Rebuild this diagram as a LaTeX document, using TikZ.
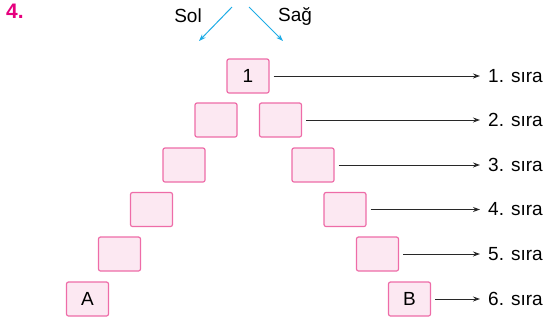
\documentclass[tikz,border=0pt]{standalone}
\usepackage{fontspec}
\setmainfont{Liberation Sans}
\usetikzlibrary{arrows.meta}
\definecolor{boxline}{RGB}{238,108,168}
\definecolor{boxfill}{RGB}{252,232,242}
\definecolor{numcol}{RGB}{230,0,126}
\definecolor{dircol}{RGB}{30,172,230}
\definecolor{linecol}{RGB}{40,40,40}
\tikzset{
  txt/.style={font=\fontsize{19}{22}\selectfont},
  cell/.style={draw=boxline, fill=boxfill, line width=1.2pt, rounded corners=2pt,
    minimum width=42pt, minimum height=34pt, inner sep=0pt, txt},
  rowlabel/.style={anchor=west, inner sep=0pt, inner xsep=8pt, txt},
  rowarrow/.style={draw=linecol, line width=1pt, -{Stealth[length=7pt,width=5pt]}},
  dirarrow/.style={draw=dircol, line width=1pt, -{Stealth[length=7pt,width=5pt]}},
  dirlabel/.style={inner sep=0pt, txt}
}
\begin{document}
\begin{tikzpicture}[x=1pt,y=-1pt]
  \useasboundingbox (0,0) rectangle (547,322);

  % problem number
  \node[anchor=north west, inner sep=0pt, text=numcol, font=\fontsize{21}{24}\selectfont\bfseries] (num) at (6,4) {4.};

  % direction hints
  \node[dirlabel] (sol) at (188,16) {Sol};
  \node[dirlabel] (sag) at (295,16) {Sağ};
  \coordinate (solA) at (232,7);
  \coordinate (solB) at (199,41);
  \coordinate (sagA) at (249,7);
  \coordinate (sagB) at (283,41);
  \draw[dirarrow] (solA) -- (solB);
  \draw[dirarrow] (sagA) -- (sagB);

  % cells, row by row
  \node[cell] (c1)  at (248,76) {1};
  \node[cell] (l2)  at (216,120) {};
  \node[cell] (r2)  at (280.5,120) {};
  \node[cell] (l3)  at (184,165) {};
  \node[cell] (r3)  at (313,165) {};
  \node[cell] (l4)  at (151.5,209.5) {};
  \node[cell] (r4)  at (345,209.5) {};
  \node[cell] (l5)  at (119.5,254) {};
  \node[cell] (r5)  at (377.5,254) {};
  \node[cell] (l6)  at (87.5,299) {A};
  \node[cell] (r6)  at (409.5,299) {B};

  % row labels
  \node[rowlabel] (s1) at (480,76) {1. sıra};
  \node[rowlabel] (s2) at (480,120) {2. sıra};
  \node[rowlabel] (s3) at (480,165) {3. sıra};
  \node[rowlabel] (s4) at (480,209.5) {4. sıra};
  \node[rowlabel] (s5) at (480,254) {5. sıra};
  \node[rowlabel] (s6) at (480,299) {6. sıra};

  % arrows from the rightmost cell of each row
  \draw[rowarrow] ([xshift=4pt]c1.east) -- (s1.west);
  \draw[rowarrow] ([xshift=4pt]r2.east) -- (s2.west);
  \draw[rowarrow] ([xshift=4pt]r3.east) -- (s3.west);
  \draw[rowarrow] ([xshift=4pt]r4.east) -- (s4.west);
  \draw[rowarrow] ([xshift=4pt]r5.east) -- (s5.west);
  \draw[rowarrow] ([xshift=4pt]r6.east) -- (s6.west);
\end{tikzpicture}
\end{document}
